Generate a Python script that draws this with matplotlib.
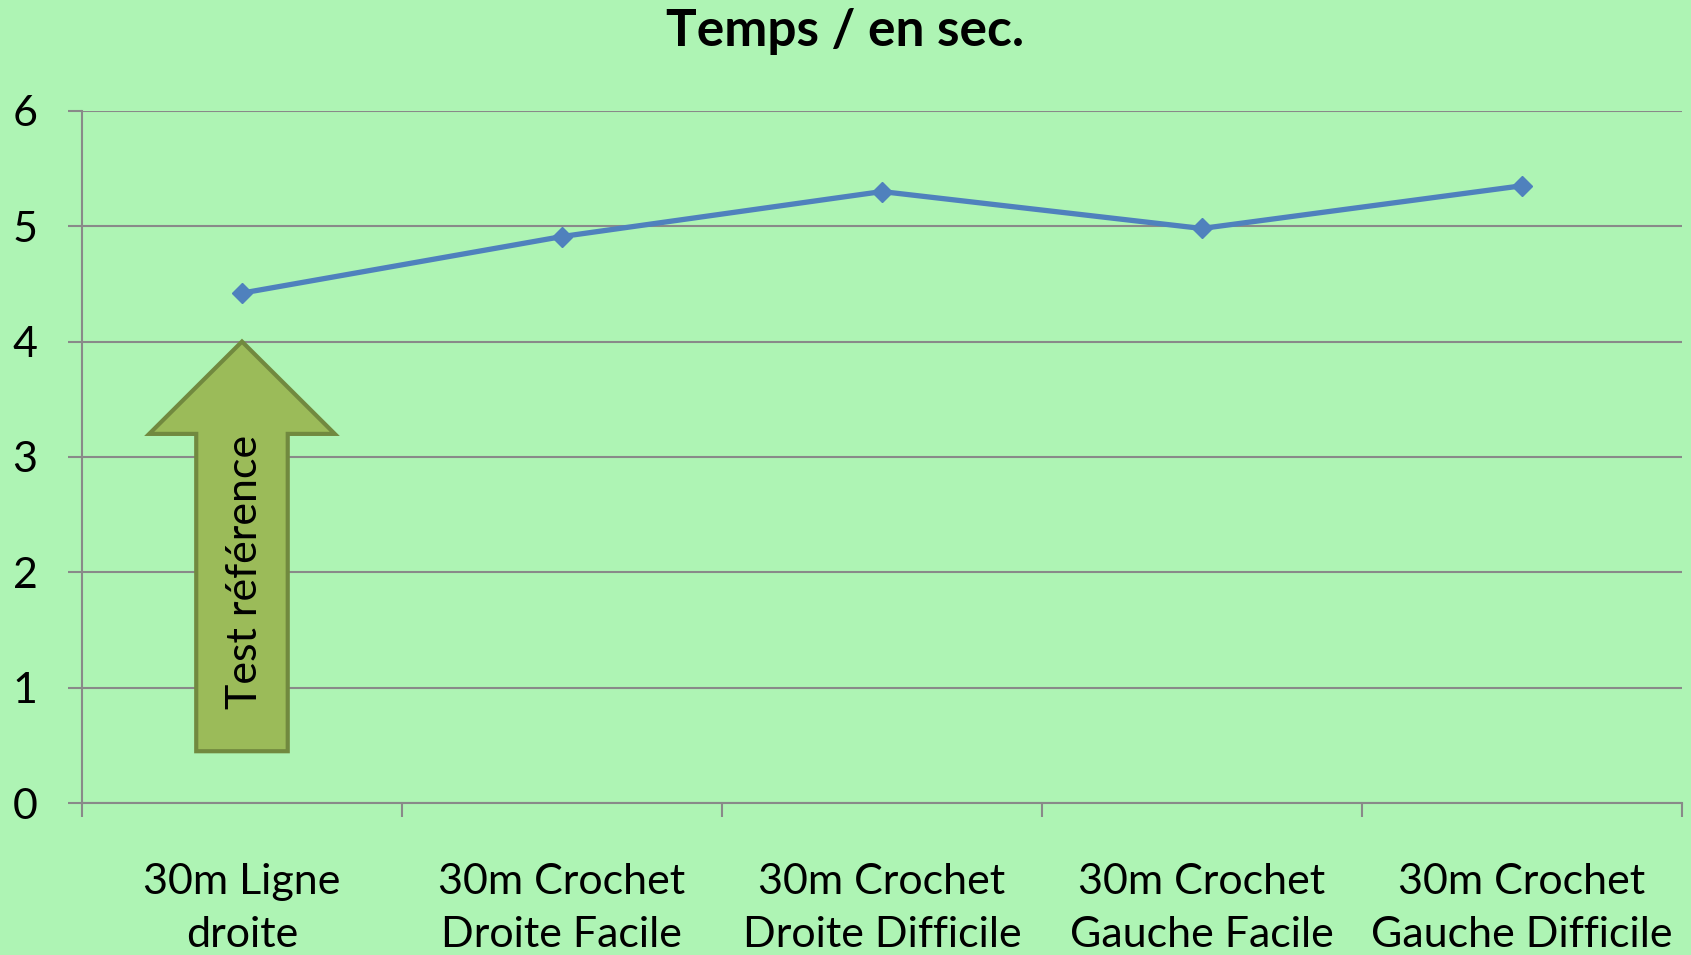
import matplotlib
matplotlib.use("Agg")
import matplotlib.pyplot as plt
from matplotlib.patches import FancyArrow

categories = ["30m Ligne\ndroite", "30m Crochet\nDroite Facile", "30m Crochet\nDroite Difficile",
              "30m Crochet\nGauche Facile", "30m Crochet\nGauche Difficile"]
temps = [4.42, 4.91, 5.30, 4.98, 5.35]
y_ticks = [0, 1, 2, 3, 4, 5, 6]

bg = "#AEF4B4"
grid_col = "#898989"

plt.rcParams["font.family"] = ["Lato", "DejaVu Sans"]

fig = plt.figure(figsize=(16.91, 9.55), dpi=100)
fig.patch.set_facecolor(bg)
ax = fig.add_axes([0.0485, 0.159, 0.946, 0.725])
ax.set_facecolor(bg)

x = list(range(len(categories)))
ax.plot(x, temps, color="#4F81BD", linewidth=3.8, marker="D", markersize=10.5, zorder=3)

ax.set_xlim(-0.5, len(categories) - 0.5)
ax.set_ylim(0, 6)
ax.set_yticks(y_ticks)
ax.set_yticklabels([str(v) for v in y_ticks], fontsize=31)
ax.grid(axis="y", color=grid_col, linewidth=1.5)
ax.set_axisbelow(True)

# category boundaries as major ticks, names on minor ticks
ax.set_xticks([i - 0.5 for i in range(len(categories) + 1)])
ax.set_xticklabels([])
ax.set_xticks(x, minor=True)
ax.set_xticklabels(categories, minor=True, fontsize=31, linespacing=1.48)
ax.tick_params(axis="x", which="minor", length=0, pad=43)
ax.tick_params(axis="x", which="major", length=10, width=1.5, color=grid_col)
ax.tick_params(axis="y", length=10, width=1.5, color=grid_col, pad=22)

for s in ["top", "right"]:
    ax.spines[s].set_visible(False)
for s in ["left", "bottom"]:
    ax.spines[s].set_color(grid_col)
    ax.spines[s].set_linewidth(1.5)

fig.text(0.5, 0.967, "Temps / en sec.", fontsize=37, fontweight="bold", ha="center", va="center")

arrow = FancyArrow(0, 0.45, 0, 3.55, width=0.286, head_width=0.58, head_length=0.8,
                   length_includes_head=True, facecolor="#9BBB59", edgecolor="#71893F",
                   linewidth=3, zorder=4)
ax.add_patch(arrow)
ax.text(0.01, 2.0, "Test référence", rotation=90, fontsize=31, ha="center", va="center", zorder=5)

fig.savefig("out.png", dpi=100, facecolor=bg)
